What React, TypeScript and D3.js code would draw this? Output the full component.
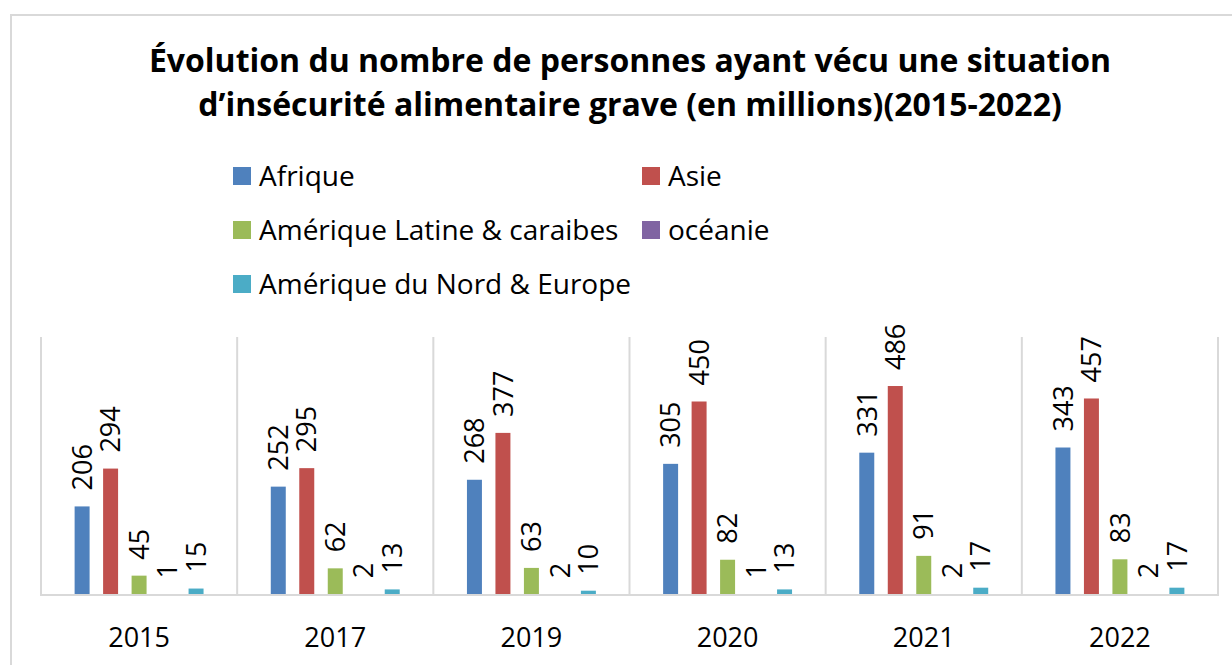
import * as d3 from "d3";

const years = ["2015", "2017", "2019", "2020", "2021", "2022"];
const seriesNames = [
  "Afrique",
  "Asie",
  "Amérique Latine & caraibes",
  "océanie",
  "Amérique du Nord & Europe",
];
const afrique = [206, 252, 268, 305, 331, 343];
const asie = [294, 295, 377, 450, 486, 457];
const ameriqueLatine = [45, 62, 63, 82, 91, 83];
const oceanie = [1, 2, 2, 1, 2, 2];
const ameriqueNord = [15, 13, 10, 13, 17, 17];
const colors = ["#4F81BD", "#C0504D", "#9BBB59", "#8064A2", "#4BACC6"];
const titleLines = [
  "Évolution du nombre de personnes ayant vécu une situation",
  "d’insécurité alimentaire grave (en millions)(2015-2022)",
];

const seriesValues = [afrique, asie, ameriqueLatine, oceanie, ameriqueNord];

const width = 1232;
const height = 665;
const plot = { left: 41, right: 1218, top: 337, bottom: 595 };
const font = "'Open Sans', 'Liberation Sans', sans-serif";
const grid = "#d9d9d9";

export default function App() {
  // scales
  const x0 = d3.scaleBand<string>().domain(years).range([plot.left, plot.right]);
  const x1 = d3
    .scaleBand<string>()
    .domain(seriesNames)
    .range([0, x0.bandwidth()])
    .paddingInner(0.474)
    .paddingOuter(1.18);
  const y = d3.scaleLinear().domain([0, 600]).range([plot.bottom, plot.top]);

  // legend: 2 columns, 3 rows
  const legendCols = [233, 642];
  const legendRows = [176, 230, 284];

  return (
    <svg
      width={width}
      height={height}
      style={{ position: "absolute", left: 0, top: 0, display: "block", background: "#fff" }}
      fontFamily={font}
    >
      {/* chart frame */}
      <line x1={11} x2={width} y1={15} y2={15} stroke={grid} strokeWidth={2} />
      <line x1={11} x2={11} y1={14} y2={height} stroke={grid} strokeWidth={2} />

      {/* title */}
      {titleLines.map((t, i) => (
        <text
          key={i}
          x={630}
          y={72 + i * 44}
          textAnchor="middle"
          fontSize={32}
          fontWeight="bold"
          fill="#000"
        >
          {t}
        </text>
      ))}

      {/* legend */}
      {seriesNames.map((name, i) => {
        const lx = legendCols[i % 2];
        const ly = legendRows[Math.floor(i / 2)];
        return (
          <g key={name} transform={`translate(${lx},${ly})`}>
            <rect x={0} y={-9} width={18} height={18} fill={colors[i]} />
            <text x={26} y={10} fontSize={28} fill="#000">
              {name}
            </text>
          </g>
        );
      })}

      {/* group separators + axes */}
      {years.map((yr) => (
        <line
          key={yr}
          x1={x0(yr)!}
          x2={x0(yr)!}
          y1={plot.top}
          y2={plot.bottom}
          stroke={grid}
          strokeWidth={2}
        />
      ))}
      <line x1={plot.right} x2={plot.right} y1={plot.top} y2={plot.bottom} stroke={grid} strokeWidth={2} />

      {/* bars */}
      {seriesValues.map((vals, si) =>
        vals.map((v, yi) => {
          const bx = x0(years[yi])! + x1(seriesNames[si])!;
          return (
            <rect
              key={`${si}-${yi}`}
              x={bx}
              y={y(v)}
              width={x1.bandwidth()}
              height={plot.bottom - y(v)}
              fill={colors[si]}
            />
          );
        })
      )}

      <line x1={plot.left - 1} x2={plot.right + 1} y1={plot.bottom} y2={plot.bottom} stroke={grid} strokeWidth={2} />

      {/* value labels, rotated */}
      {seriesValues.map((vals, si) =>
        vals.map((v, yi) => {
          const cx = x0(years[yi])! + x1(seriesNames[si])! + x1.bandwidth() / 2;
          const ty = y(v) - 16;
          return (
            <text
              key={`l-${si}-${yi}`}
              transform={`translate(${cx},${ty}) rotate(-90)`}
              dy="0.36em"
              fontSize={27}
              fill="#000"
            >
              {v}
            </text>
          );
        })
      )}

      {/* category labels */}
      {years.map((yr) => (
        <text
          key={`x-${yr}`}
          x={x0(yr)! + x0.bandwidth() / 2}
          y={647}
          textAnchor="middle"
          fontSize={27}
          fill="#000"
        >
          {yr}
        </text>
      ))}
    </svg>
  );
}
